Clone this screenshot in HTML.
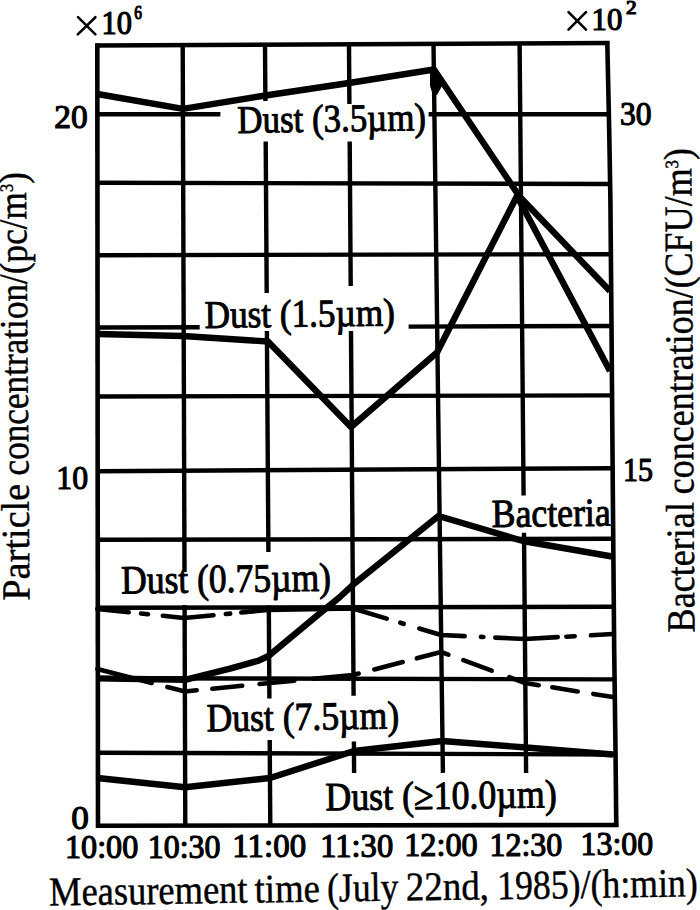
<!DOCTYPE html>
<html><head><meta charset="utf-8"><style>
html,body{margin:0;padding:0;background:#fff;width:700px;height:910px;overflow:hidden}
svg{display:block}
text{font-family:"Liberation Serif",serif;fill:#000;stroke:#000;stroke-linejoin:round}
</style></head><body>
<svg width="700" height="910" viewBox="0 0 700 910">
<rect width="700" height="910" fill="#fff"/>
<g stroke="#000">
<line x1="95.3" y1="45.5" x2="609.3" y2="43.0" stroke-width="4.6" stroke-linecap="butt"/>
<line x1="97.4" y1="114.3" x2="220.4" y2="114.3" stroke-width="4.4" stroke-linecap="butt"/>
<line x1="428.6" y1="114.3" x2="608.9" y2="114.3" stroke-width="4.4" stroke-linecap="butt"/>
<line x1="97.4" y1="182.8" x2="610.1" y2="184.0" stroke-width="4.4" stroke-linecap="butt"/>
<line x1="97.5" y1="255.2" x2="610.9" y2="254.2" stroke-width="4.4" stroke-linecap="butt"/>
<line x1="97.6" y1="327.5" x2="199.7" y2="327.2" stroke-width="4.4" stroke-linecap="butt"/>
<line x1="408.6" y1="326.6" x2="611.5" y2="326.0" stroke-width="4.4" stroke-linecap="butt"/>
<line x1="97.6" y1="396.5" x2="612.1" y2="395.4" stroke-width="4.4" stroke-linecap="butt"/>
<line x1="97.7" y1="471.2" x2="612.6" y2="468.2" stroke-width="4.4" stroke-linecap="butt"/>
<line x1="97.7" y1="539.8" x2="613.2" y2="538.8" stroke-width="4.4" stroke-linecap="butt"/>
<line x1="97.8" y1="607.8" x2="613.8" y2="606.8" stroke-width="4.4" stroke-linecap="butt"/>
<line x1="97.9" y1="678.2" x2="614.6" y2="679.4" stroke-width="4.4" stroke-linecap="butt"/>
<line x1="97.9" y1="752.8" x2="615.5" y2="754.5" stroke-width="4.4" stroke-linecap="butt"/>
<line x1="96.0" y1="825.8" x2="618.3" y2="825.0" stroke-width="4.6" stroke-linecap="butt"/>
<line x1="97.3" y1="43.5" x2="98.0" y2="827.8" stroke-width="4.6" stroke-linecap="butt"/>
<line x1="182.7" y1="45.1" x2="184.5" y2="572.0" stroke-width="4.4" stroke-linecap="butt"/>
<line x1="184.6" y1="605.0" x2="185.3" y2="825.7" stroke-width="4.4" stroke-linecap="butt"/>
<line x1="265.0" y1="44.7" x2="265.4" y2="101.0" stroke-width="4.4" stroke-linecap="butt"/>
<line x1="265.7" y1="141.5" x2="266.7" y2="293.0" stroke-width="4.4" stroke-linecap="butt"/>
<line x1="266.9" y1="331.0" x2="268.4" y2="552.0" stroke-width="4.4" stroke-linecap="butt"/>
<line x1="268.8" y1="605.4" x2="269.4" y2="698.6" stroke-width="4.4" stroke-linecap="butt"/>
<line x1="269.7" y1="740.0" x2="270.3" y2="825.5" stroke-width="4.4" stroke-linecap="butt"/>
<line x1="349.0" y1="44.3" x2="349.4" y2="104.0" stroke-width="4.4" stroke-linecap="butt"/>
<line x1="349.7" y1="141.5" x2="350.7" y2="286.0" stroke-width="4.4" stroke-linecap="butt"/>
<line x1="351.0" y1="331.0" x2="353.6" y2="695.7" stroke-width="4.4" stroke-linecap="butt"/>
<line x1="353.9" y1="741.4" x2="354.1" y2="772.9" stroke-width="4.4" stroke-linecap="butt"/>
<line x1="433.5" y1="43.9" x2="442.9" y2="772.9" stroke-width="4.4" stroke-linecap="butt"/>
<line x1="519.6" y1="43.4" x2="523.6" y2="495.6" stroke-width="4.4" stroke-linecap="butt"/>
<line x1="524.0" y1="532.7" x2="526.1" y2="772.9" stroke-width="4.4" stroke-linecap="butt"/>
<polyline fill="none" stroke-width="4.6" points="607.3,41.0 607.3,43.0 609.2,130.0 610.4,200.0 611.5,325.0 612.9,500.0 614.2,650.0 615.5,750.0 616.3,827.0"/>
</g>
<g stroke="#000">
<polyline points="97.3,94.0 183.0,108.8 265.5,95.5 349.0,83.0 434.0,69.5 519.5,196.5 610.0,291.0" fill="none" stroke-width="6.4" stroke-linejoin="round"/>
<polyline points="97.3,334.0 183.0,336.0 268.0,341.5 351.0,427.0 437.0,352.5 517.0,196.0 610.0,371.0" fill="none" stroke-width="6.4" stroke-linejoin="round"/>
<polyline points="97.3,678.4 185.0,679.8 230.0,668.6 258.6,660.7 268.5,656.0 315.7,616.7 339.3,597.5 353.5,584.3 438.5,516.0 523.0,541.0 612.0,556.5" fill="none" stroke-width="6.4" stroke-linejoin="round"/>
<polyline points="97.3,609.0 128.7,612.3" fill="none" stroke-width="4.6" stroke-linecap="round" stroke-linejoin="round"/>
<polyline points="141.0,613.5 148.0,614.3" fill="none" stroke-width="4.6" stroke-linecap="round" stroke-linejoin="round"/>
<polyline points="162.8,615.8 184.0,618.0 213.5,615.2" fill="none" stroke-width="4.6" stroke-linecap="round" stroke-linejoin="round"/>
<polyline points="225.8,614.0 230.2,613.6" fill="none" stroke-width="4.6" stroke-linecap="round" stroke-linejoin="round"/>
<polyline points="241.3,612.5 268.0,610.0 353.0,608.5 386.7,618.6" fill="none" stroke-width="4.6" stroke-linecap="round" stroke-linejoin="round"/>
<polyline points="400.3,622.7 403.7,623.8" fill="none" stroke-width="4.6" stroke-linecap="round" stroke-linejoin="round"/>
<polyline points="419.3,628.5 441.0,635.0 464.7,636.1" fill="none" stroke-width="4.6" stroke-linecap="round" stroke-linejoin="round"/>
<polyline points="480.9,636.9 483.4,637.0" fill="none" stroke-width="4.6" stroke-linecap="round" stroke-linejoin="round"/>
<polyline points="495.3,637.6 525.0,639.0 557.7,637.1" fill="none" stroke-width="4.6" stroke-linecap="round" stroke-linejoin="round"/>
<polyline points="566.3,636.7 574.7,636.2" fill="none" stroke-width="4.6" stroke-linecap="round" stroke-linejoin="round"/>
<polyline points="590.9,635.3 613.0,634.0" fill="none" stroke-width="4.6" stroke-linecap="round" stroke-linejoin="round"/>
<polyline points="97.3,669.0 151.7,683.0" fill="none" stroke-width="4.6" stroke-linecap="round" stroke-linejoin="round"/>
<polyline points="167.3,687.0 185.0,691.5 196.7,690.3" fill="none" stroke-width="4.6" stroke-linecap="round" stroke-linejoin="round"/>
<polyline points="212.3,688.8 242.2,685.8" fill="none" stroke-width="4.6" stroke-linecap="round" stroke-linejoin="round"/>
<polyline points="259.6,684.0 270.0,683.0 294.3,680.7" fill="none" stroke-width="4.6" stroke-linecap="round" stroke-linejoin="round"/>
<polyline points="313.1,678.8 353.0,675.0 358.7,673.5" fill="none" stroke-width="4.6" stroke-linecap="round" stroke-linejoin="round"/>
<polyline points="374.3,669.4 402.7,662.0" fill="none" stroke-width="4.6" stroke-linecap="round" stroke-linejoin="round"/>
<polyline points="416.8,658.3 441.0,652.0 448.4,654.7" fill="none" stroke-width="4.6" stroke-linecap="round" stroke-linejoin="round"/>
<polyline points="463.3,660.2 491.7,670.7" fill="none" stroke-width="4.6" stroke-linecap="round" stroke-linejoin="round"/>
<polyline points="509.3,677.2 525.0,683.0 538.7,685.2" fill="none" stroke-width="4.6" stroke-linecap="round" stroke-linejoin="round"/>
<polyline points="552.3,687.3 577.7,691.4" fill="none" stroke-width="4.6" stroke-linecap="round" stroke-linejoin="round"/>
<polyline points="593.3,693.9 613.0,697.0" fill="none" stroke-width="4.6" stroke-linecap="round" stroke-linejoin="round"/>
<polyline points="97.3,778.0 185.0,787.3 270.0,778.0 354.0,751.0 442.0,741.0 526.0,747.5 613.0,754.5" fill="none" stroke-width="6.4" stroke-linejoin="round"/>
<path d="M430,73 L437,70 L442,78 L442,86 L437,95 L433,95 L430,86 Z" fill="#000" stroke="none"/>
<line x1="78" y1="17.2" x2="95.4" y2="34.4" stroke-width="2.6" stroke-linecap="round"/>
<line x1="95.4" y1="17.2" x2="77.8" y2="34.4" stroke-width="2.6" stroke-linecap="round"/>
<line x1="568.5" y1="12.2" x2="586" y2="29.6" stroke-width="2.6" stroke-linecap="round"/>
<line x1="586" y1="12.2" x2="568.5" y2="29.6" stroke-width="2.6" stroke-linecap="round"/>
</g>
<g>
<text transform="translate(54.26,127.62) scale(0.9881,1)" font-size="33.88" stroke-width="1.2">20</text>
<text transform="translate(56.33,489.12) scale(0.9373,1)" font-size="33.97" stroke-width="1.2">10</text>
<text transform="translate(71.19,829.31) scale(1.0221,1)" font-size="34.48" stroke-width="1.2">0</text>
<text transform="translate(619.92,125.33) scale(0.9382,1)" font-size="33.73" stroke-width="1.2">30</text>
<text transform="translate(622.90,480.76) scale(0.8777,1)" font-size="34.18" stroke-width="1.2">15</text>
<text transform="translate(101.56,34.44) scale(0.9206,1)" font-size="33.09" stroke-width="1.2">10</text>
<text transform="translate(134.29,19.00) scale(0.7732,1)" font-size="19.85" stroke-width="1.2">6</text>
<text transform="translate(591.53,29.66) scale(0.9653,1)" font-size="31.91" stroke-width="1.2">10</text>
<text transform="translate(626.05,14.30) scale(1.1510,1)" font-size="18.46" stroke-width="1.2">2</text>
<text transform="translate(65.00,858.31) scale(0.9475,1)" font-size="33.97" stroke-width="1.2">10:00</text>
<text transform="translate(147.72,857.85) scale(0.9406,1)" font-size="33.97" stroke-width="1.2">10:30</text>
<text transform="translate(232.34,857.39) scale(0.9696,1)" font-size="33.97" stroke-width="1.2">11:00</text>
<text transform="translate(320.17,856.90) scale(0.9598,1)" font-size="33.97" stroke-width="1.2">11:30</text>
<text transform="translate(404.20,856.44) scale(0.9488,1)" font-size="33.97" stroke-width="1.2">12:00</text>
<text transform="translate(489.42,855.97) scale(0.9420,1)" font-size="33.97" stroke-width="1.2">12:30</text>
<text transform="translate(580.53,855.47) scale(0.9379,1)" font-size="33.97" stroke-width="1.2">13:00</text>
<text transform="translate(237.55,132.91) rotate(-0.85) scale(0.8909,1)" font-size="39.15" stroke-width="1.0">Dust (3.5&#181;m)</text>
<text transform="translate(204.74,327.91) rotate(-0.75) scale(0.8990,1)" font-size="39.15" stroke-width="1.0">Dust (1.5&#181;m)</text>
<text transform="translate(121.33,593.51) rotate(-0.8) scale(0.8848,1)" font-size="40.15" stroke-width="1.0">Dust (0.75&#181;m)</text>
<text transform="translate(206.72,731.31) rotate(-0.85) scale(0.8960,1)" font-size="39.77" stroke-width="1.0">Dust (7.5&#181;m)</text>
<text transform="translate(325.52,810.31) rotate(-0.75) scale(0.8958,1)" font-size="40.00" stroke-width="1.0">Dust (&#8805;10.0&#181;m)</text>
<text transform="translate(491.82,527.11) rotate(-0.7) scale(0.8971,1)" font-size="39.85" stroke-width="1.0">Bacteria</text>
<text transform="translate(49.23,905.49) rotate(-0.8) scale(0.8932,1)" font-size="40.85" stroke-width="0.45">Measurement</text>
<text transform="translate(254.85,902.62) rotate(-0.8) scale(0.8994,1)" font-size="40.85" stroke-width="0.45">time</text>
<text transform="translate(327.20,901.61) rotate(-0.8) scale(0.8726,1)" font-size="40.85" stroke-width="0.45">(July</text>
<text transform="translate(406.05,900.50) rotate(-0.8) scale(0.9036,1)" font-size="40.85" stroke-width="0.45">22nd,</text>
<text transform="translate(497.30,899.23) rotate(-0.8) scale(0.8759,1)" font-size="40.85" stroke-width="0.45">1985)/(h:min)</text>
<text transform="translate(29.48,600.52) rotate(-90.475) scale(0.9617,1)" font-size="39.77" stroke-width="0.45">Particle</text>
<text transform="translate(28.45,475.49) rotate(-90.475) scale(0.8858,1)" font-size="39.77" stroke-width="0.45">concentration/(pc/m<tspan font-size="18.7" dy="-13.3">3</tspan><tspan dy="13.3">)</tspan></text>
<text transform="translate(694.38,632.46) rotate(-90.385) scale(0.9087,1)" font-size="39.77" stroke-width="0.45">Bacterial</text>
<text transform="translate(693.45,494.22) rotate(-90.385) scale(0.9052,1)" font-size="39.77" stroke-width="0.45">concentration/(CFU/m<tspan font-size="18.7" dy="-13.3">3</tspan><tspan dy="13.3">)</tspan></text>
</g>
</svg>
</body></html>
